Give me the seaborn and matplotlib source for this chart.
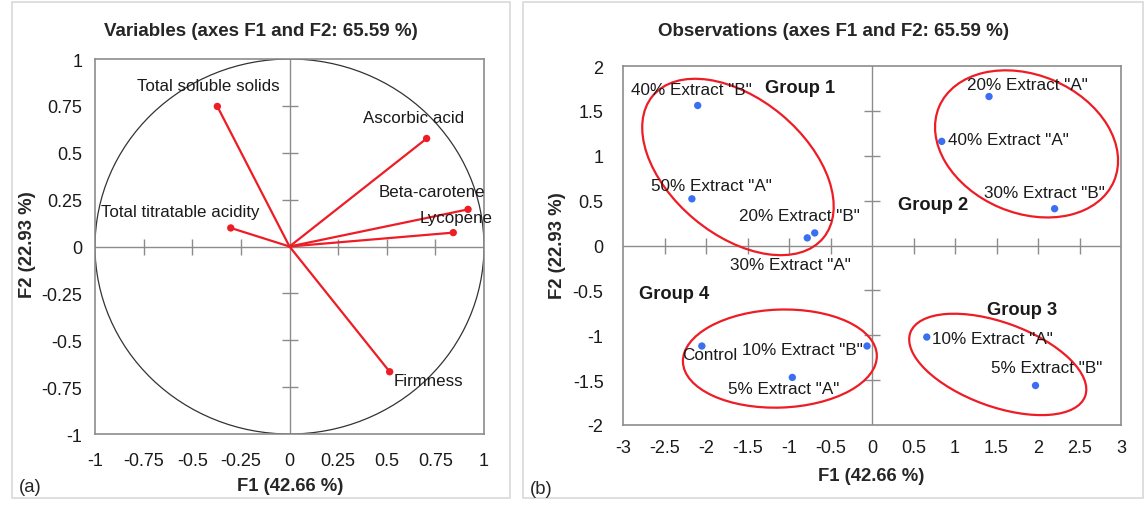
import numpy as np
import matplotlib
matplotlib.use("Agg")
import matplotlib.pyplot as plt
import seaborn as sns
from matplotlib.patches import Ellipse, Circle, Rectangle
from matplotlib.transforms import ScaledTranslation
from matplotlib.ticker import FormatStrFormatter

# Variáveis (círculo de correlação)
var_names = ["Total soluble solids", "Total titratable acidity", "Ascorbic acid",
             "Beta-carotene", "Lycopene", "Firmness"]
var_f1 = [-0.371, -0.302, 0.705, 0.918, 0.842, 0.515]
var_f2 = [0.747, 0.099, 0.576, 0.198, 0.074, -0.668]
var_lab_x = [-0.417, -0.563, 0.640, 0.734, 0.858, 0.714]
var_lab_y = [0.859, 0.184, 0.687, 0.293, 0.157, -0.717]

# Observações
obs_names = ['40% Extract "B"', '50% Extract "A"', '20% Extract "B"', '30% Extract "A"',
             '20% Extract "A"', '40% Extract "A"', '30% Extract "B"', 'Control',
             '10% Extract "B"', '5% Extract "A"', '10% Extract "A"', '5% Extract "B"']
obs_f1 = [-2.10, -2.17, -0.69, -0.78, 1.41, 0.84, 2.20, -2.05, -0.06, -0.96, 0.66, 1.97]
obs_f2 = [1.56, 0.52, 0.14, 0.085, 1.66, 1.16, 0.41, -1.12, -1.12, -1.47, -1.02, -1.56]
obs_lab_x = [-2.18, -1.93, -0.88, -0.98, 1.87, 0.92, 2.08, -1.95, -0.84, -1.07, 0.725, 2.10]
obs_lab_y = [1.74, 0.664, 0.338, -0.215, 1.79, 1.18, 0.59, -1.22, -1.16, -1.59, -1.035, -1.36]
obs_lab_ha = ["center"] * 5 + ["left"] + ["center"] * 4 + ["left", "center"]

# Grupos
group_names = ["Group 1", "Group 2", "Group 3", "Group 4"]
group_lab_x = [-0.866, 0.74, 1.81, -2.38]
group_lab_y = [1.76, 0.46, -0.71, -0.53]
ell_cx = [-1.615, 1.862, 1.515, -1.11]
ell_cy = [0.875, 1.132, -1.325, -1.26]
ell_a_px = [111, 95, 93, 97]
ell_b_px = [68, 69, 42, 49]
ell_angle = [-39.8, -23, -20, 2]

left_ticks = np.arange(-1, 1.01, 0.25)
right_xticks = np.arange(-3, 3.01, 0.5)
right_yticks = np.arange(-2, 2.01, 0.5)

sns.set_style("white")
plt.rcParams['font.family'] = ['Liberation Sans', 'DejaVu Sans']

RED = "#ee1c25"
BLUE = "#3a6ff2"
GRAY = "#8c8c8c"

fig = plt.figure(figsize=(11.48, 5.06), dpi=100)
fig.patch.set_facecolor("white")

# molduras dos painéis
for x0, x1 in [(12, 510), (523, 1143)]:
    fig.patches.append(Rectangle((x0 / 1148, 7 / 506), (x1 - x0) / 1148, 496 / 506,
                                 transform=fig.transFigure, fill=False,
                                 edgecolor="#d9d9d9", lw=1.2))

ax1 = fig.add_axes([95 / 1148, 71 / 506, 389 / 1148, 375 / 506])
ax2 = fig.add_axes([623 / 1148, 80 / 506, 498 / 1148, 359 / 506])


def estilo(ax, xt, yt, ypad, xpad):
    for s in ax.spines.values():
        s.set_color(GRAY)
        s.set_linewidth(1.2)
    ax.set_xticks(xt)
    ax.set_yticks(yt)
    ax.xaxis.set_major_formatter(FormatStrFormatter('%g'))
    ax.yaxis.set_major_formatter(FormatStrFormatter('%g'))
    ax.tick_params(length=0, labelsize=13, colors="#1a1a1a")
    ax.tick_params(axis="y", pad=ypad)
    ax.tick_params(axis="x", pad=xpad)
    ax.axhline(0, color=GRAY, lw=1, zorder=1)
    ax.axvline(0, color=GRAY, lw=1, zorder=1)
    # marcas de escala sobre os eixos centrais
    xin = [v for v in xt[1:-1] if abs(v) > 1e-9]
    yin = [v for v in yt[1:-1] if abs(v) > 1e-9]
    ax.plot(xin, np.zeros(len(xin)), ls="none", marker="|", ms=11, mew=1, color=GRAY, zorder=1)
    ax.plot(np.zeros(len(yin)), yin, ls="none", marker="_", ms=11, mew=1, color=GRAY, zorder=1)
    ax.set_xlim(xt[0], xt[-1])
    ax.set_ylim(yt[0], yt[-1])


# (a) variáveis
estilo(ax1, left_ticks, left_ticks, 9, 13)
ax1.add_patch(Circle((0, 0), 1, fill=False, color="#333333", lw=0.9, zorder=2))
for x, y in zip(var_f1, var_f2):
    ax1.plot([0, x], [0, y], color=RED, lw=1.6, zorder=3)
sns.scatterplot(x=var_f1, y=var_f2, ax=ax1, color=RED, s=28, edgecolor="none", zorder=4)
for n, x, y in zip(var_names, var_lab_x, var_lab_y):
    ax1.text(x, y, n, ha="center", va="center", fontsize=12.2, color="#1a1a1a", zorder=5)
ax1.set_xlabel("")
ax1.set_ylabel("")

# (b) observações
estilo(ax2, right_xticks, right_yticks, 14, 10)
sns.scatterplot(x=obs_f1, y=obs_f2, ax=ax2, color=BLUE, s=28, edgecolor="none", zorder=4)
for n, x, y, ha in zip(obs_names, obs_lab_x, obs_lab_y, obs_lab_ha):
    ax2.text(x, y, n, ha=ha, va="center", fontsize=12.3, color="#1a1a1a", zorder=5)
for n, x, y in zip(group_names, group_lab_x, group_lab_y):
    ax2.text(x, y, n, ha="center", va="center", fontsize=13.2, fontweight="bold",
             color="#1a1a1a", zorder=5)
for cx, cy, a, b, ang in zip(ell_cx, ell_cy, ell_a_px, ell_b_px, ell_angle):
    tr = fig.dpi_scale_trans + ScaledTranslation(cx, cy, ax2.transData)
    ax2.add_patch(Ellipse((0, 0), 2 * a / 100, 2 * b / 100, angle=ang, transform=tr,
                          fill=False, edgecolor=RED, lw=1.6, zorder=3))
ax2.set_xlabel("")
ax2.set_ylabel("")

# títulos e rótulos dos eixos
def ftxt(x, y, s, **kw):
    fig.text(x / 1148, 1 - y / 506, s, ha="center", va="center", **kw)

ftxt(261, 32, "Variables (axes F1 and F2: 65.59 %)", fontsize=13.5, fontweight="bold")
ftxt(834, 32, "Observations (axes F1 and F2: 65.59 %)", fontsize=13.5, fontweight="bold")
ftxt(290, 487, "F1 (42.66 %)", fontsize=13.3, fontweight="bold")
ftxt(871, 477, "F1 (42.66 %)", fontsize=13.3, fontweight="bold")
ftxt(27, 245, "F2 (22.93 %)", fontsize=13.3, fontweight="bold", rotation=90)
ftxt(557, 246, "F2 (22.93 %)", fontsize=13.3, fontweight="bold", rotation=90)
ftxt(30, 488, "(a)", fontsize=13.3)
ftxt(541, 490, "(b)", fontsize=13.3)

fig.savefig("out.png", dpi=100, facecolor="white")
